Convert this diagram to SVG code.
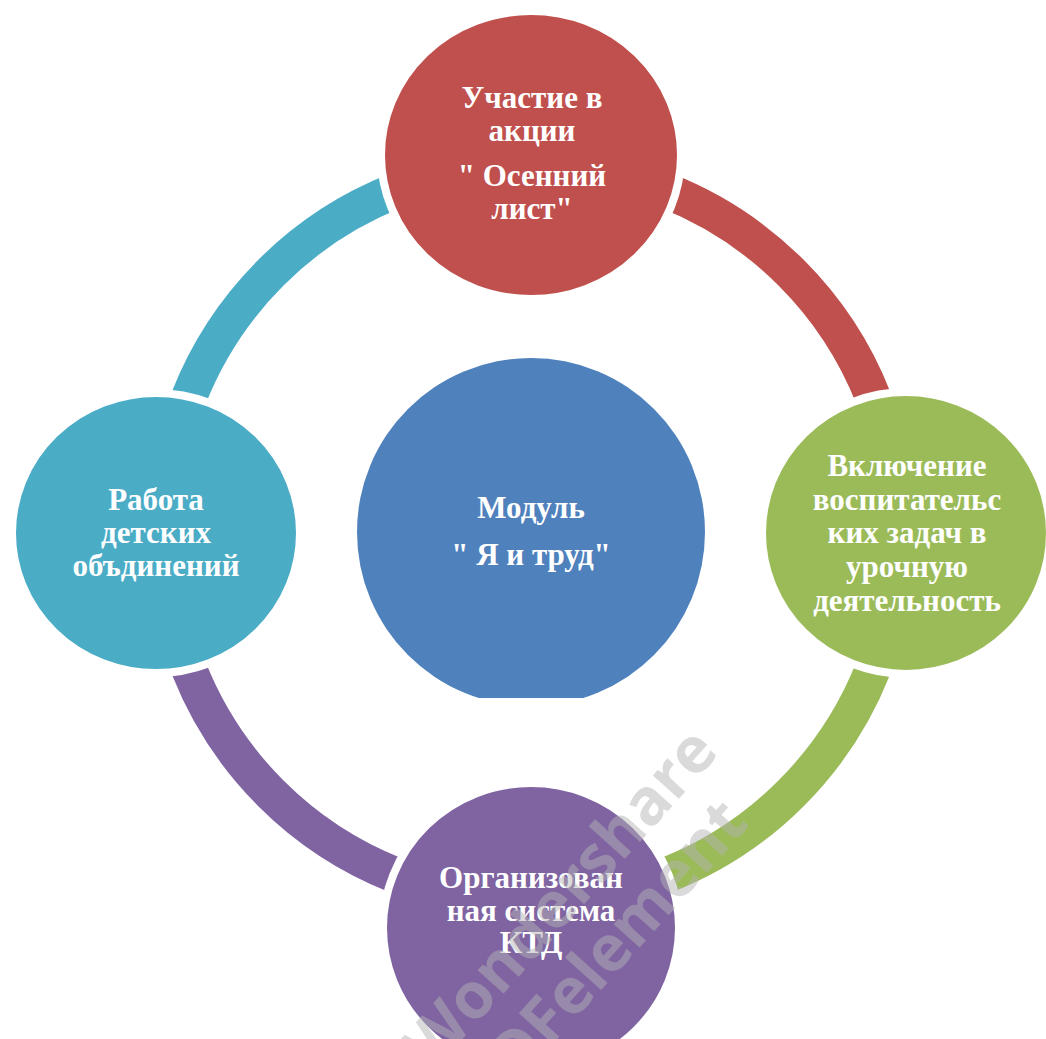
<svg xmlns="http://www.w3.org/2000/svg" width="1046" height="1039" viewBox="0 0 1046 1039">
<style>
.lbl{font-family:"Liberation Serif","Times New Roman",serif;font-weight:bold;font-size:31px;fill:#ffffff;text-anchor:middle}
.node{stroke:#ffffff;stroke-width:8}
.arc{fill:none;stroke-width:36}
.wm{font-family:"Open Sans","Liberation Sans",sans-serif;font-weight:bold;font-size:64px;fill:#b4b4b4;opacity:0.48;text-anchor:middle}
</style>
<defs>
<clipPath id="cclip"><rect x="0" y="0" width="1046" height="698"/></clipPath>
</defs>
<rect width="1046" height="1039" fill="#ffffff"/>
<g id="connectors">
<path class="arc" stroke="#C0504D" d="M531,165 A368,368 0 0 1 899,533"/>
<path class="arc" stroke="#9BBB59" d="M899,533 A368,368 0 0 1 531,901"/>
<path class="arc" stroke="#8064A2" d="M531,901 A368,368 0 0 1 163,533"/>
<path class="arc" stroke="#4BACC6" d="M163,533 A368,368 0 0 1 531,165"/>
</g>
<g id="center">
<circle cx="531" cy="532" r="174" fill="#4F81BD" clip-path="url(#cclip)"/>
<text class="lbl" x="531" y="518">Модуль</text>
<text class="lbl" x="531" y="565">" Я и труд"</text>
</g>
<g id="top">
<ellipse class="node" cx="531" cy="155" rx="150" ry="144" fill="#C0504D"/>
<text class="lbl" x="532" y="108">Участие в</text>
<text class="lbl" x="532" y="141">акции</text>
<text class="lbl" x="532" y="186">" Осенний</text>
<text class="lbl" x="532" y="219">лист"</text>
</g>
<g id="right">
<ellipse class="node" cx="906" cy="533" rx="144" ry="141" fill="#9BBB59"/>
<text class="lbl" x="907" y="476">Включение</text>
<text class="lbl" x="907" y="510">воспитательс</text>
<text class="lbl" x="907" y="543">ких задач в</text>
<text class="lbl" x="907" y="577">урочную</text>
<text class="lbl" x="907" y="611">деятельность</text>
</g>
<g id="bottom">
<ellipse class="node" cx="531" cy="928" rx="148" ry="145" fill="#8064A2"/>
<text class="lbl" x="531" y="888">Организован</text>
<text class="lbl" x="531" y="921">ная система</text>
<text class="lbl" x="531" y="953">КТД</text>
</g>
<g id="left">
<ellipse class="node" cx="156" cy="533" rx="144" ry="140" fill="#4BACC6"/>
<text class="lbl" x="156" y="510">Работа</text>
<text class="lbl" x="156" y="543">детских</text>
<text class="lbl" x="156" y="576">объдинений</text>
</g>
<g id="watermark">
<text class="wm" transform="translate(560,898) rotate(-48)" y="22">Wondershare</text>
<text class="wm" transform="translate(604,954) rotate(-48)" y="22">PDFelement</text>
</g>
</svg>
